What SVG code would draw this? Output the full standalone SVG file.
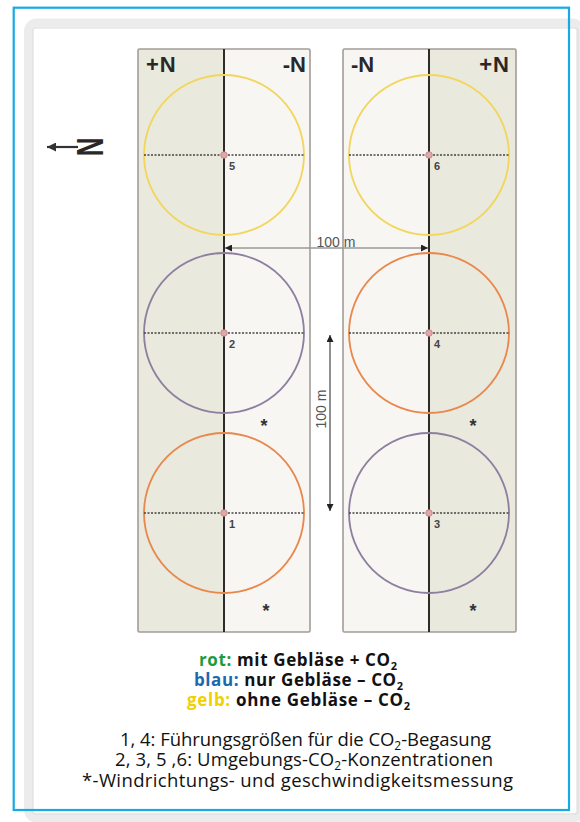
<svg xmlns="http://www.w3.org/2000/svg" width="580" height="822" viewBox="0 0 580 822">
<defs>
<marker id="ah" viewBox="0 0 10 10" refX="10" refY="5" markerWidth="7" markerHeight="7" markerUnits="userSpaceOnUse" orient="auto-start-reverse"><path d="M0,0 L10,5 L0,10 z" fill="#222"/></marker>
<marker id="nah" viewBox="0 0 10 10" refX="10" refY="5" markerWidth="11" markerHeight="9" markerUnits="userSpaceOnUse" orient="auto"><path d="M0,0 L10,5 L0,10 z" fill="#333"/></marker>
</defs>
<style>
.hdr{font-family:"Liberation Sans",Arial,sans-serif;font-weight:bold;font-size:22px;fill:#2a2726}
.num{font-family:"Liberation Sans",Arial,sans-serif;font-weight:bold;font-size:11px;fill:#444}
.star{font-family:"Liberation Sans",Arial,sans-serif;font-weight:bold;font-size:18px;fill:#333;text-anchor:middle}
.dim{font-family:"Liberation Sans",Arial,sans-serif;font-size:14px;fill:#555;text-anchor:middle}
.plus{fill:#e9e9de}
.minus{fill:#f7f6f3}
.frame{fill:none;stroke:#a39c99;stroke-width:1.6}
.div{stroke:#2e2c2b;stroke-width:2}
.diam{stroke:#444;stroke-width:1.5;stroke-dasharray:2 1.5}
.c{fill:none;stroke-width:1.8}
.yel{stroke:#f2d65c}
.pur{stroke:#8d7f9f}
.ora{stroke:#e9884c}
.dot{fill:#e2a7a7;stroke:#b98383;stroke-width:0.8}
.leg{font-family:"Open Sans","Noto Sans",sans-serif;font-weight:bold;font-size:17px;fill:#111}
.txt{font-family:"Open Sans","Noto Sans",sans-serif;font-size:18.5px;fill:#111}
</style>
<rect width="580" height="822" fill="#ffffff"/>
<g id="outer-frame">
<rect x="28.5" y="23" width="552" height="795" rx="8" fill="#ffffff" stroke="#ececec" stroke-width="9"/>
<rect x="33" y="28" width="545" height="786" rx="2" fill="none" stroke="#dcdcdc" stroke-width="1"/>
</g>
<g id="field-left">
<rect class="plus" x="138" y="49" width="86" height="583"/>
<rect class="minus" x="224" y="49" width="86" height="583"/>
<rect class="frame" x="138" y="49" width="172" height="583" rx="1.5"/>
<line class="div" x1="224" y1="49" x2="224" y2="632"/>
<text class="hdr" x="146" y="72" letter-spacing="1">+N</text>
<text class="hdr" x="306" y="72" text-anchor="end">-N</text>
</g>
<g id="field-right">
<rect class="minus" x="343" y="49" width="86" height="583"/>
<rect class="plus" x="429" y="49" width="87" height="583"/>
<rect class="frame" x="343" y="49" width="173" height="583" rx="1.5"/>
<line class="div" x1="429" y1="49" x2="429" y2="632"/>
<text class="hdr" x="351" y="72">-N</text>
<text class="hdr" x="510" y="72" text-anchor="end" letter-spacing="1">+N</text>
</g>
<g id="node-5">
<circle class="c yel" cx="224" cy="155" r="80"/>
<line class="diam" x1="144" y1="155" x2="304" y2="155"/>
<circle class="dot" cx="224" cy="155" r="3.3"/>
<text class="num" x="229" y="170">5</text>
</g>
<g id="node-2">
<circle class="c pur" cx="224" cy="333" r="80"/>
<line class="diam" x1="144" y1="333" x2="304" y2="333"/>
<circle class="dot" cx="224" cy="333" r="3.3"/>
<text class="num" x="229" y="348">2</text>
</g>
<g id="node-1">
<circle class="c ora" cx="224" cy="513" r="80"/>
<line class="diam" x1="144" y1="513" x2="304" y2="513"/>
<circle class="dot" cx="224" cy="513" r="3.3"/>
<text class="num" x="229" y="528">1</text>
</g>
<g id="node-6">
<circle class="c yel" cx="429" cy="155" r="80"/>
<line class="diam" x1="349" y1="155" x2="509" y2="155"/>
<circle class="dot" cx="429" cy="155" r="3.3"/>
<text class="num" x="434" y="170">6</text>
</g>
<g id="node-4">
<circle class="c ora" cx="429" cy="333" r="80"/>
<line class="diam" x1="349" y1="333" x2="509" y2="333"/>
<circle class="dot" cx="429" cy="333" r="3.3"/>
<text class="num" x="434" y="348">4</text>
</g>
<g id="node-3">
<circle class="c pur" cx="429" cy="513" r="80"/>
<line class="diam" x1="349" y1="513" x2="509" y2="513"/>
<circle class="dot" cx="429" cy="513" r="3.3"/>
<text class="num" x="434" y="528">3</text>
</g>
<g id="wind-marks">
<text class="star" x="264" y="432">*</text>
<text class="star" x="266" y="617">*</text>
<text class="star" x="473" y="432">*</text>
<text class="star" x="473" y="617">*</text>
</g>
<g id="connectors">
<line x1="225" y1="248" x2="428" y2="248" stroke="#999" stroke-width="1.6" marker-start="url(#ah)" marker-end="url(#ah)"/>
<line x1="330" y1="335" x2="330" y2="511" stroke="#555" stroke-width="1.3" marker-start="url(#ah)" marker-end="url(#ah)"/>
<text class="dim" x="336" y="247">100 m</text>
<text class="dim" transform="translate(326,409) rotate(-90)" x="0" y="0">100 m</text>
</g>
<g id="north">
<line x1="78" y1="147" x2="47" y2="147" stroke="#333" stroke-width="2.2" marker-end="url(#nah)"/>
<text transform="translate(89.5,147) rotate(90) scale(1,1.4)" x="0" y="9" text-anchor="middle" font-family="Liberation Sans, Arial, sans-serif" font-weight="bold" font-size="26" fill="#2a2726">N</text>
</g>
<g id="legend">
<text class="leg" x="199" y="666" textLength="198"><tspan fill="#1e9b3c">rot:</tspan> mit Gebläse + CO<tspan font-size="11" dy="4">2</tspan></text>
<text class="leg" x="194" y="686" textLength="209"><tspan fill="#1c68b0">blau:</tspan> nur Gebläse – CO<tspan font-size="11" dy="4">2</tspan></text>
<text class="leg" x="187" y="706" textLength="223"><tspan fill="#f2d000">gelb:</tspan> ohne Gebläse – CO<tspan font-size="11" dy="4">2</tspan></text>
<text class="txt" x="120" y="746" textLength="371">1, 4: Führungsgrößen für die CO<tspan font-size="12" dy="4">2</tspan><tspan dy="-4">-Begasung</tspan></text>
<text class="txt" x="115" y="766" textLength="378">2, 3, 5 ,6: Umgebungs-CO<tspan font-size="12" dy="4">2</tspan><tspan dy="-4">-Konzentrationen</tspan></text>
<text class="txt" x="82" y="787" textLength="431">*-Windrichtungs- und geschwindigkeitsmessung</text>
</g>
<rect id="blue-frame" x="13.7" y="7.7" width="555.3" height="802.3" fill="none" stroke="#16a9e4" stroke-width="2.2"/>
</svg>
